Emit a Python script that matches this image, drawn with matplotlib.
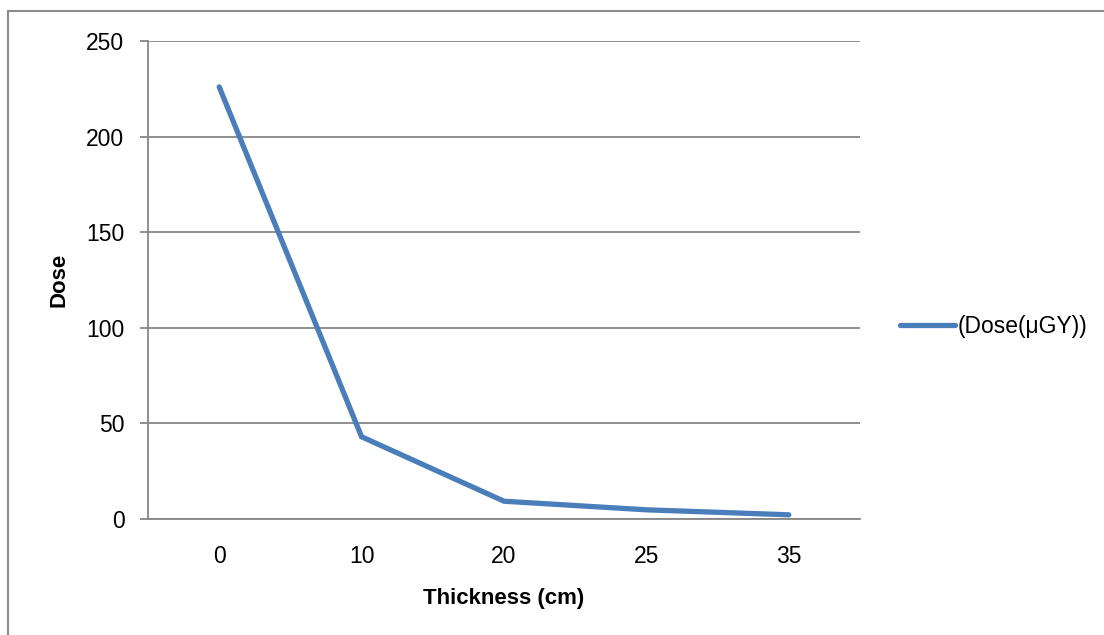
import matplotlib
matplotlib.use("Agg")
import matplotlib.pyplot as plt
from matplotlib.lines import Line2D

# data
thickness = ["0", "10", "20", "25", "35"]
dose = [226, 43, 9.3, 4.8, 2.2]
y_ticks = [0, 50, 100, 150, 200, 250]
series_name = "(Dose(μGY))"

plt.rcParams["font.family"] = ["Liberation Sans", "DejaVu Sans"]

W, H = 1104, 635
fig = plt.figure(figsize=(W / 100, H / 100), dpi=100)
ax = fig.add_axes([148 / W, 1 - 519 / H, 712 / W, 478 / H])

grid_c = "#868686"
x = range(len(thickness))
ax.plot(x, dose, color="#4a7ebb", lw=3.8, solid_capstyle="round",
        solid_joinstyle="miter", label=series_name, zorder=3)

ax.set_xlim(-0.5, len(thickness) - 0.5)
ax.set_ylim(0, 250)
ax.set_yticks(y_ticks)
ax.set_xticks(list(x))
ax.set_xticklabels(thickness)
ax.yaxis.grid(True, color=grid_c, lw=1.3)
ax.set_axisbelow(True)

for side in ("top", "right"):
    ax.spines[side].set_visible(False)
for side in ("left", "bottom"):
    ax.spines[side].set_color(grid_c)
    ax.spines[side].set_linewidth(1.3)

ax.tick_params(axis="y", length=6, width=1.3, color=grid_c, labelsize=16.5, pad=11)
ax.tick_params(axis="x", length=0, labelsize=16.5, pad=19)

ax.set_xlabel("Thickness (cm)", fontsize=16, fontweight="bold", labelpad=14)
ax.set_ylabel("Dose", fontsize=16, fontweight="bold", labelpad=12)

ax.legend(loc="center left", bbox_to_anchor=(1.056, 0.402), frameon=False,
          fontsize=16.5, handlelength=2.4, handletextpad=0.1,
          borderpad=0, borderaxespad=0)

# chart area border (top and left edges only visible)
border = dict(color="#8c8c8c", lw=1.5, transform=fig.transFigure)
fig.add_artist(Line2D([8 / W, 1], [1 - 11 / H, 1 - 11 / H], **border))
fig.add_artist(Line2D([8 / W, 8 / W], [0, 1 - 11 / H], **border))

fig.savefig("out.png", dpi=100)
